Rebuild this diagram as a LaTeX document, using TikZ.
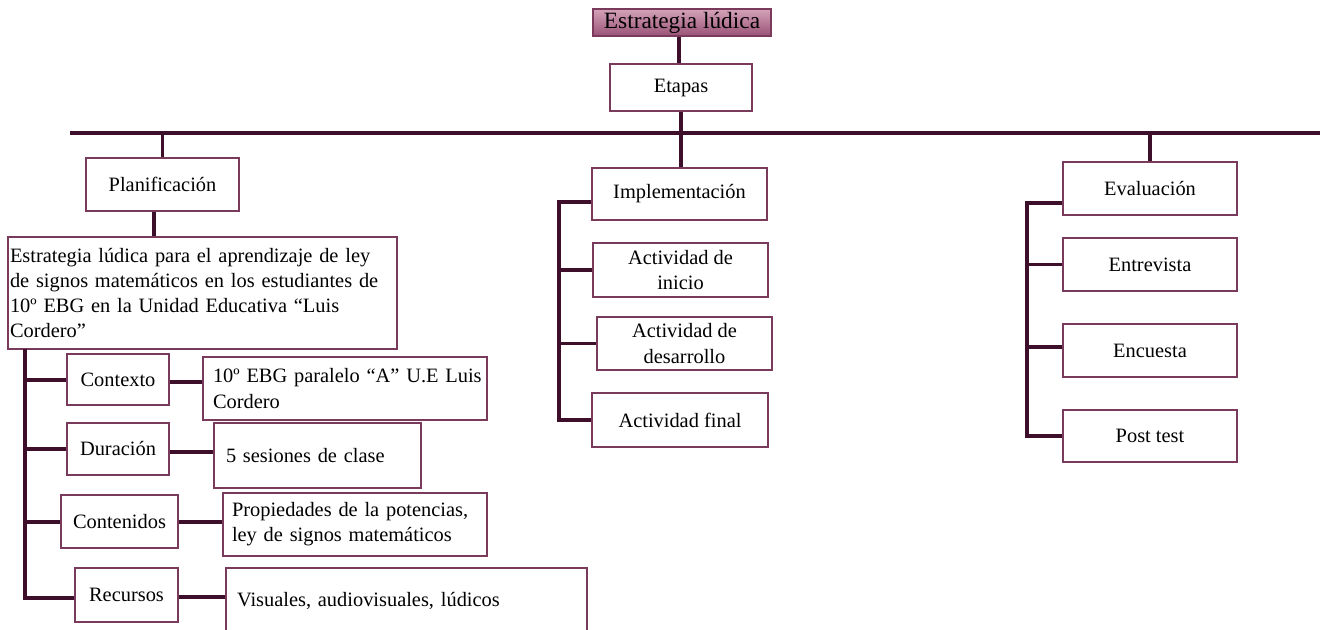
\documentclass[tikz,border=0pt]{standalone}
\usepackage{fontspec}
\setmainfont{Liberation Serif}
\begin{document}
\begin{tikzpicture}[x=0.75pt,y=-0.75pt,
  every node/.style={font=\fontsize{15.3pt}{18.8pt}\selectfont},
  rect/.style 2 args={draw=boxc, line width=1.6pt, fill=white, inner sep=0pt,
     minimum width=#1*0.75pt, minimum height=#2*0.75pt, align=center},
  ltext/.style 2 args={draw=boxc, line width=1.6pt, fill=white, inner ysep=0pt,
     inner xsep=9*0.75pt,
     minimum width=#1*0.75pt, minimum height=#2*0.75pt,
     text width=#1*0.75pt-18*0.75pt},
  conn/.style={draw=linec, line width=2.4pt}]
\definecolor{boxc}{HTML}{7A3A5C}
\definecolor{linec}{HTML}{3D0F2A}
\definecolor{ttop}{HTML}{D4A3B9}
\definecolor{tbot}{HTML}{9A5276}
\useasboundingbox (0,0) rectangle (1320,630);

% title and Etapas
\node[rect={178}{27}, top color=ttop, bottom color=tbot, font=\fontsize{17.5pt}{20pt}\selectfont] (title) at (682,22.5) {Estrategia lúdica};
\node[rect={142}{47}] (etapas) at (681,87.5) {Etapas};

% main horizontal line
\coordinate (hl) at (70,133);
\coordinate (hr) at (1320,133);

% stage boxes
\node[rect={153}{53}] (planif) at (162.5,184.5) {Planificación};
\node[rect={175}{52}] (impl) at (679.5,194) {Implementación};
\node[rect={174}{53}] (eval) at (1150,188.5) {Evaluación};

% planning column
\node[ltext={389}{112}, inner xsep=2*0.75pt, text width=385*0.75pt] (big) at (202.5,293) {\raggedright Estrategia lúdica para el aprendizaje de ley de signos matemáticos en los estudiantes de 10º EBG en la Unidad Educativa “Luis Cordero”\par};
\node[rect={102}{51}] (contexto) at (118,379.5) {Contexto};
\node[rect={102}{52}] (duracion) at (118,449) {Duración};
\node[rect={117}{53}] (contenidos) at (119.5,521.5) {Contenidos};
\node[rect={103}{54}] (recursos) at (126.5,595) {Recursos};
\node[ltext={284}{63}, inner xsep=10*0.75pt, text width=264*0.75pt] (rcontexto) at (345,388.5) {\raggedright\mbox{10º EBG paralelo “A” U.E Luis}\\Cordero\par};
\node[ltext={207}{65}, inner xsep=12*0.75pt, text width=183*0.75pt] (rduracion) at (317.5,455.5) {\raggedright\raisebox{-3pt}{5 sesiones de clase}\par};
\node[ltext={264}{63}] (rcontenidos) at (355,524.5) {\raggedright\mbox{Propiedades de la potencias,}\\ley de signos matemáticos\par};
\node[ltext={361}{66}, inner xsep=11*0.75pt, text width=339*0.75pt] (rrecursos) at (406.5,601) {\raggedright Visuales, audiovisuales, lúdicos\par};

% implementation column
\node[rect={175}{54}] (inicio) at (680.5,270) {Actividad de\\inicio};
\node[rect={175}{53}] (desarrollo) at (684.5,343.5) {Actividad de\\desarrollo};
\node[rect={176}{54}] (final) at (680,420) {Actividad final};

% evaluation column
\node[rect={174}{53}] (entrevista) at (1150,264.5) {Entrevista};
\node[rect={174}{53}] (encuesta) at (1150,350.5) {Encuesta};
\node[rect={174}{52}] (post) at (1150,436) {Post test};

% connectors: top
\draw[conn] (title.south -| 679,0) -- (etapas.north -| 679,0);
\draw[conn] (hl) -- (hr);
\draw[conn] (etapas.south) -- (impl.north -| etapas.south);
\draw[conn] (hl -| planif.north) -- (planif.north);
\draw[conn] (hl -| eval.north) -- (eval.north);

% planning connectors
\draw[conn] (planif.south -| 154,0) -- (big.north -| 154,0);
\coordinate (tp) at (25,349);
\draw[conn] (tp) |- (recursos.west |- 0,598);
\draw[conn] (tp |- 0,380) -- (contexto.west |- 0,380);
\draw[conn] (tp |- 0,449) -- (duracion.west |- 0,449);
\draw[conn] (tp |- 0,522) -- (contenidos.west |- 0,522);
\draw[conn] (contexto.east |- 0,382) -- (rcontexto.west |- 0,382);
\draw[conn] (duracion.east |- 0,452) -- (rduracion.west |- 0,452);
\draw[conn] (contenidos.east |- 0,522) -- (rcontenidos.west |- 0,522);
\draw[conn] (recursos.east |- 0,597) -- (rrecursos.west |- 0,597);

% implementation connectors
\coordinate (ti) at (559,202);
\draw[conn] (impl.west |- ti) -- (ti) |- (final.west);
\draw[conn] (ti |- inicio.west) -- (inicio.west);
\draw[conn] (ti |- desarrollo.west) -- (desarrollo.west);

% evaluation connectors
\coordinate (te) at (1027,203);
\draw[conn] (eval.west |- te) -- (te) |- (post.west);
\draw[conn] (te |- entrevista.west) -- (entrevista.west);
\draw[conn] (te |- 0,347) -- (encuesta.west |- 0,347);
\end{tikzpicture}
\end{document}
